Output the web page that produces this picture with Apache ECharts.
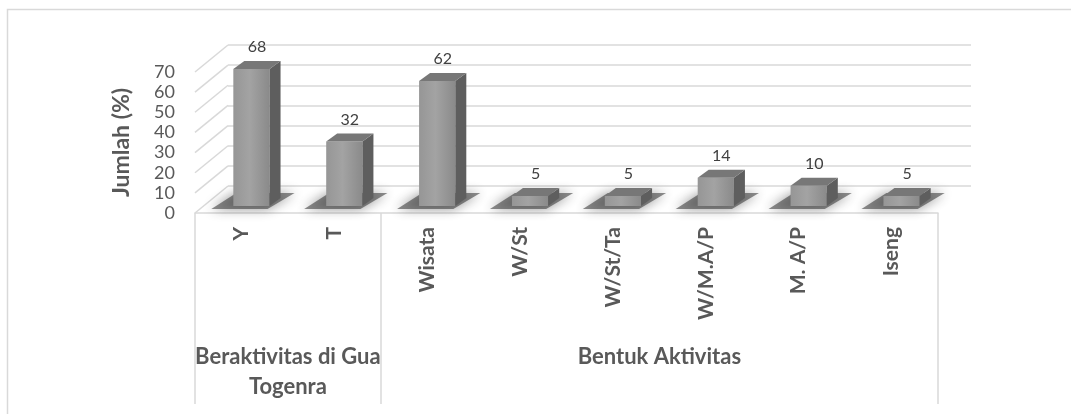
<!DOCTYPE html>
<html>
<head>
<meta charset="utf-8">
<script src="https://cdn.jsdelivr.net/npm/echarts@6/dist/echarts.min.js"></script>
<style>
  html, body { margin: 0; background: #fff; }
  #chart { width: 1071px; height: 414px; }
</style>
</head>
<body>
<div id="chart"></div>
<script>
// data
const categories = ['Y', 'T', 'Wisata', 'W/St', 'W/St/Ta', 'W/M.A/P', 'M. A/P', 'Iseng'];
const values = [68, 32, 62, 5, 5, 14, 10, 5];
const groups = ['Beraktivitas di Gua\nTogenra', 'Bentuk Aktivitas'];
const groupSpans = [2, 6];
const yTicks = [0, 10, 20, 30, 40, 50, 60, 70];

// fake 3d layout
const FRONT = { left: 195, right: 133, top: 72, bottom: 201 };
const DEPTH = [33, -27];      // back wall offset
const BAR_OFF = [10, -7];     // bars sit a bit into the floor
const BAR_D = [11, -8];       // bar depth
const GRID_C = '#d9d9d9';
const TXT = '#595959';
const FONT = 'Lato, "Noto Sans", sans-serif';

// group boundaries / centers on a 0..n value axis
const bounds = [0];
groupSpans.forEach(s => bounds.push(bounds[bounds.length - 1] + s));
const centers = groupSpans.map((s, i) => bounds[i] + s / 2);

const chart = echarts.init(document.getElementById('chart'));

function renderWall(params, api) {
  const y = api.coord([0, api.value(1)])[1];
  const x = params.coordSys.x;
  return {
    type: 'line',
    silent: true,
    shape: { x1: x, y1: y, x2: x + DEPTH[0], y2: y + DEPTH[1] },
    style: { stroke: GRID_C, lineWidth: 1.5 }
  };
}

function renderBar(params, api) {
  const i = api.value(0);
  const v = api.value(1);
  const base = api.coord([i, 0]);
  const top = api.coord([i, v]);
  const bw = api.size([1, 0])[0] * 0.39;
  const x0 = base[0] - bw / 2 + BAR_OFF[0];
  const y0 = base[1] + BAR_OFF[1];
  const y1 = top[1] + BAR_OFF[1];
  const dx = BAR_D[0], dy = BAR_D[1];
  return {
    type: 'group',
    children: [
      {
        type: 'polygon',
        shape: { points: [[x0 - 22, y0 + 3], [x0 + bw - 2, y0 + 3], [x0 + bw + dx + 14, y0 + dy - 5], [x0 + dx - 8, y0 + dy - 5]] },
        style: { fill: 'rgba(50,50,50,0.55)', shadowBlur: 12, shadowColor: 'rgba(40,40,40,0.9)' }
      },
      {
        type: 'rect',
        shape: { x: x0, y: y1, width: bw, height: y0 - y1 },
        style: {
          fill: {
            type: 'linear', x: 0, y: 0, x2: 1, y2: 0,
            colorStops: [
              { offset: 0, color: '#969696' },
              { offset: 0.45, color: '#a3a3a3' },
              { offset: 1, color: '#8a8a8a' }
            ]
          }
        }
      },
      {
        type: 'polygon',
        shape: { points: [[x0 + bw, y1], [x0 + bw + dx, y1 + dy], [x0 + bw + dx, y0 + dy], [x0 + bw, y0]] },
        style: { fill: '#5e5e5e' }
      },
      {
        type: 'polygon',
        shape: { points: [[x0, y1], [x0 + bw, y1], [x0 + bw + dx, y1 + dy], [x0 + dx, y1 + dy]] },
        style: { fill: '#777777' }
      },
      {
        type: 'text',
        style: {
          text: String(v),
          x: x0 + bw / 2 + dx / 2,
          y: y1 + dy - 6,
          align: 'center',
          verticalAlign: 'bottom',
          fontSize: 16,
          fontFamily: FONT,
          fill: '#404040'
        }
      }
    ]
  };
}

const option = {
  animation: false,
  backgroundColor: '#fff',
  graphic: [{
    type: 'rect',
    z: -10,
    shape: { x: 7.5, y: 9.5, width: 1100, height: 500 },
    style: { fill: 'transparent', stroke: GRID_C, lineWidth: 1.5 }
  }],
  grid: [
    { left: FRONT.left, right: FRONT.right, top: FRONT.top, bottom: FRONT.bottom },
    {
      left: FRONT.left + DEPTH[0], right: FRONT.right - DEPTH[0],
      top: FRONT.top + DEPTH[1], bottom: FRONT.bottom - DEPTH[1]
    }
  ],
  xAxis: [
    {
      type: 'category',
      gridIndex: 0,
      data: categories,
      axisLine: { lineStyle: { color: GRID_C, width: 1.5 } },
      axisTick: { show: false },
      axisLabel: {
        interval: 0, rotate: 90, margin: 14,
        fontSize: 21, fontWeight: 'bold', fontFamily: FONT, color: TXT
      }
    },
    {
      type: 'value',
      gridIndex: 0,
      position: 'bottom',
      min: 0,
      max: bounds[bounds.length - 1],
      axisLine: { show: false },
      splitLine: { show: false },
      axisTick: {
        show: true, customValues: bounds, length: 191,
        lineStyle: { color: GRID_C, width: 1.5 }
      },
      axisLabel: {
        customValues: centers,
        margin: 129,
        formatter: v => groups[centers.indexOf(v)] || '',
        fontSize: 22, fontWeight: 'bold', fontFamily: FONT, color: TXT,
        lineHeight: 30
      }
    },
    { type: 'value', gridIndex: 1, show: false, min: 0, max: 1 }
  ],
  yAxis: [
    {
      type: 'value',
      gridIndex: 0,
      min: 0, max: 70, interval: 10,
      name: 'Jumlah (%)',
      nameLocation: 'middle',
      nameGap: 62,
      nameTextStyle: { fontSize: 23, fontWeight: 'bold', fontFamily: FONT, color: TXT },
      axisLine: { show: false },
      axisTick: { show: false },
      splitLine: { show: false },
      axisLabel: { margin: 20, fontSize: 18, fontFamily: FONT, color: TXT }
    },
    {
      type: 'value',
      gridIndex: 1,
      min: 0, max: 70, interval: 10,
      axisLine: { show: false },
      axisTick: { show: false },
      axisLabel: { show: false },
      splitLine: { lineStyle: { color: GRID_C, width: 1.5 } }
    }
  ],
  series: [
    {
      type: 'custom',
      name: 'wall',
      xAxisIndex: 0, yAxisIndex: 0,
      clip: false,
      silent: true,
      renderItem: renderWall,
      data: yTicks.map(v => [0, v]),
      z: 1
    },
    {
      type: 'custom',
      name: 'Jumlah',
      xAxisIndex: 0, yAxisIndex: 0,
      clip: false,
      renderItem: renderBar,
      encode: { x: 0, y: 1 },
      data: values.map((v, i) => [i, v]),
      z: 3
    }
  ]
};

chart.setOption(option);
window.addEventListener('resize', () => chart.resize());
</script>
</body>
</html>
